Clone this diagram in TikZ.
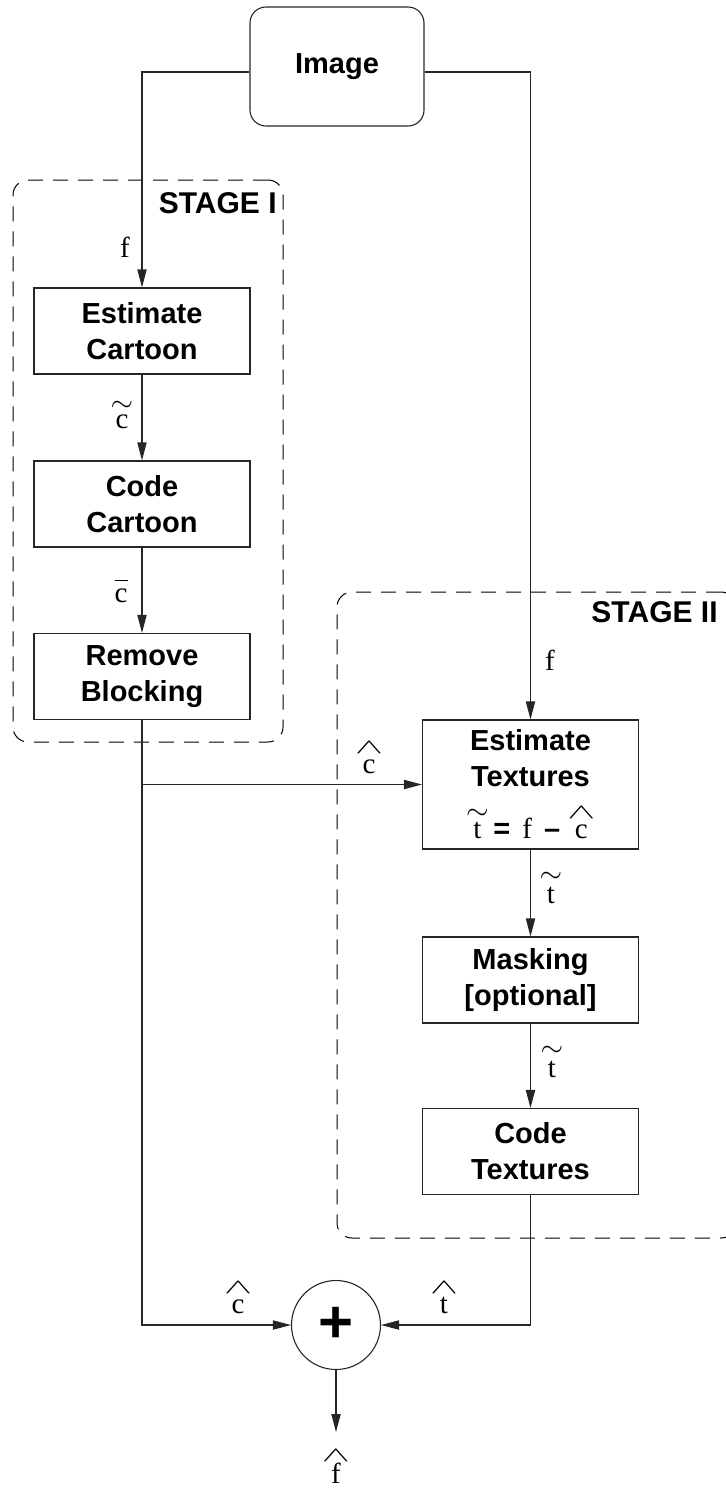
\documentclass[tikz,border=0pt]{standalone}
\usepackage{graphicx}
\usepackage{fontspec}
\setmainfont{Liberation Serif}
\setsansfont{Liberation Sans}
\usetikzlibrary{arrows.meta}

% a letter with a mark set above it: #1 raise, #2 mark, #3 letter
\newcommand{\accover}[3]{\leavevmode\ooalign{\hidewidth\raisebox{#1}{#2}\hidewidth\cr\hfil#3\hfil\cr}}
\newcommand{\hatmark}{\scalebox{2.1}[1.05]{\fontsize{10}{10}\selectfont$\wedge$}}
\newcommand{\tildemark}{\scalebox{1.45}[1.4]{\fontsize{10}{10}\selectfont$\sim$}}
\newcommand{\barmark}{\rule{6.5pt}{0.45pt}}
\newcommand{\hatsym}[2][10pt]{\accover{#1}{\hatmark}{#2}}
\newcommand{\tildesym}[2][8pt]{\accover{#1}{\tildemark}{#2}}
\newcommand{\barsym}[2][10.5pt]{\accover{#1}{\barmark}{#2}}

\tikzset{
  line/.style={draw=black!85, line width=0.55pt},
  arr/.style={line, -{Triangle[length=9pt,width=4.6pt]}},
  procbox/.style={line, rectangle, minimum width=108pt, minimum height=43pt,
    inner sep=0pt, align=center,
    font=\sffamily\bfseries\fontsize{14.5}{18}\selectfont},
  srcbox/.style={procbox, rounded corners=8pt, minimum width=87pt, minimum height=59.5pt},
  stagebox/.style={draw=black, line width=0.5pt, dash pattern=on 7.5pt off 5pt,
    rounded corners=7.5pt, rectangle, inner sep=0pt},
  stagelabel/.style={inner sep=0pt, font=\sffamily\bfseries\fontsize{15}{18}\selectfont},
  sig/.style={inner sep=0pt, anchor=base, font=\rmfamily\fontsize{14.5}{17}\selectfont},
  sumnode/.style={line, circle, minimum size=44.5pt, inner sep=0pt,
    font=\sffamily\bfseries\fontsize{30}{30}\selectfont}
}

\begin{document}
\begin{tikzpicture}[x=0.5pt, y=-0.5pt]
  \useasboundingbox (0,0) rectangle (726,1490);
  \clip (0,0) rectangle (726,1490);

  % dashed stage frames
  \node[stagebox, minimum width=135pt, minimum height=281pt] (s1) at (148,461) {};
  \node[stagebox, minimum width=199.5pt, minimum height=323pt] (s2) at (536.5,915) {};
  \node[stagelabel, anchor=east] (s1l) at (277,203) {STAGE I};
  \node[stagelabel, anchor=east] (s2l) at (718,612) {STAGE II};

  % processing blocks
  \node[srcbox] (img) at (337,66.5) {Image};
  \node[procbox] (ec) at (142,331) {Estimate\\Cartoon};
  \node[procbox] (cc) at (142,504) {Code\\Cartoon};
  \node[procbox] (rb) at (142,676.5) {Remove\\Blocking};
  \node[procbox, minimum height=64.5pt] (et) at (530.5,784.5)
    {Estimate\\Textures\\[8pt]{\rmfamily\mdseries\fontsize{14.5}{17}\selectfont
      \tildesym[9.5pt]{t}\ \,{\sffamily\bfseries =}\ \,f\ \,{\sffamily\bfseries --}\ \ \hatsym{c}}};
  \node[procbox] (mk) at (530.5,980) {Masking\\{}[optional]};
  \node[procbox] (ct) at (530.5,1151.5) {Code\\Textures};
  \node[sumnode] (sum) at (336,1325) {+};
  \coordinate (outend) at (336,1432);

  % signal names
  \node[sig] (lf1) at (125,257) {f};
  \node[sig] (lc1) at (122,428) {\tildesym[8.3pt]{c}};
  \node[sig] (lc2) at (121,602) {\barsym{c}};
  \node[sig] (lf2) at (550,670) {f};
  \node[sig] (lc3) at (369,773) {\hatsym{c}};
  \node[sig] (lt1) at (551,903) {\tildesym[10.5pt]{t}};
  \node[sig] (lt2) at (552,1077) {\tildesym[10.5pt]{t}};
  \node[sig] (lc4) at (238,1313) {\hatsym{c}};
  \node[sig] (lt3) at (444,1313) {\hatsym{t}};
  \node[sig] (lf3) at (336,1483) {\hatsym[11pt]{f}};

  % connectors
  \draw[arr] ([yshift=-2.75pt]img.west) -| (ec.north);
  \draw[arr] ([yshift=-2.75pt]img.east) -| (et.north);
  \draw[arr] (ec.south) -- (cc.north);
  \draw[arr] (cc.south) -- (rb.north);
  \draw[arr] (rb.south) |- (sum.west);
  \draw[arr] (rb.south |- et.west) -- (et.west);
  \draw[arr] (et.south) -- (mk.north);
  \draw[arr] (mk.south) -- (ct.north);
  \draw[arr] (ct.south) |- (sum.east);
  \draw[arr] (sum.south) -- (outend);
\end{tikzpicture}
\end{document}
